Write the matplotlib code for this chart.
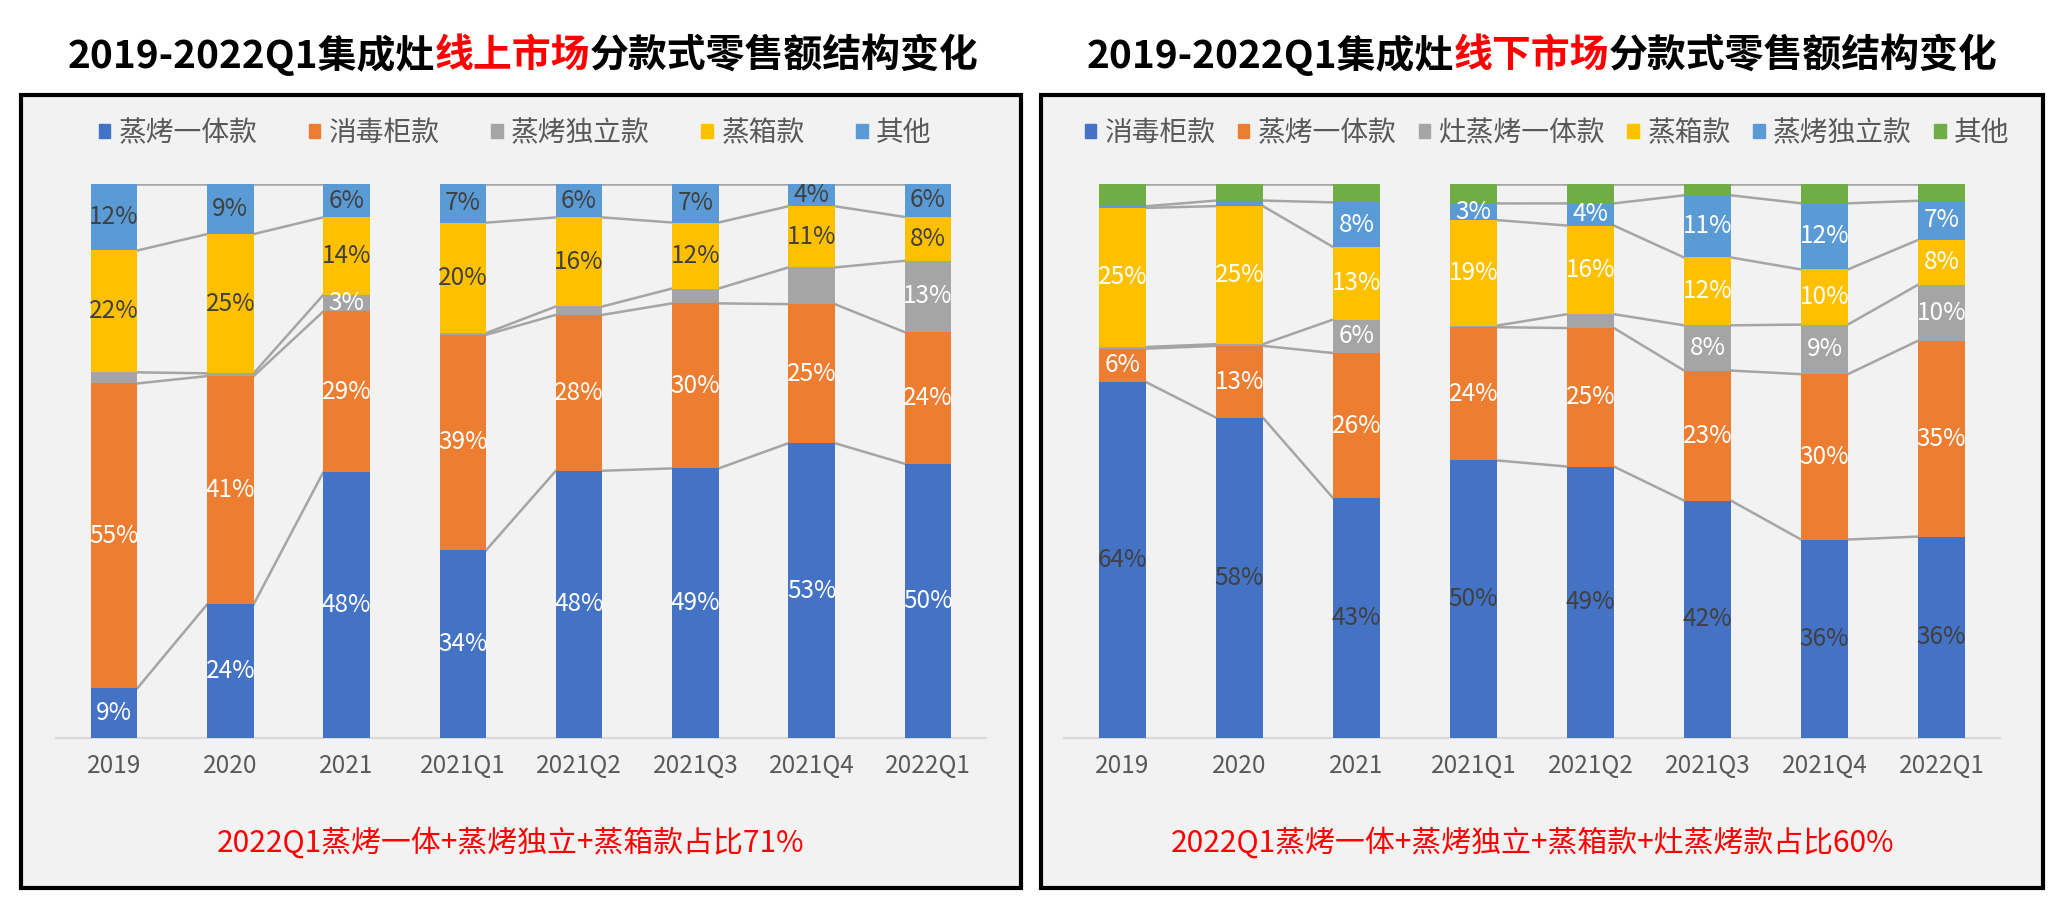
import matplotlib
matplotlib.use("Agg")
import matplotlib.pyplot as plt
from matplotlib.patches import Rectangle, Patch
import numpy as np

plt.rcParams['font.family'] = ['Noto Sans CJK SC', 'DejaVu Sans']

# Data
periods = ['2019', '2020', '2021', '2021Q1', '2021Q2', '2021Q3', '2021Q4', '2022Q1']
groups = [[0, 1, 2], [3, 4, 5, 6, 7]]  # connector lines only inside each group

online_names = ['蒸烤一体款', '消毒柜款', '蒸烤独立款', '蒸箱款', '其他']
online_steam_oven = [9, 24, 48, 34, 48, 49, 53, 50]
online_sterilizer = [55, 41, 29, 39, 28, 30, 25, 24]
online_steam_oven_sep = [2, 0.5, 3, 0.3, 1.5, 2.7, 6.6, 13]
online_steamer = [22, 25, 14, 20, 16, 12, 11, 8]
online_other = [12, 9, 6, 7, 6, 7, 4, 6]

offline_names = ['消毒柜款', '蒸烤一体款', '灶蒸烤一体款', '蒸箱款', '蒸烤独立款', '其他']
offline_sterilizer = [64, 58, 43, 50, 49, 42, 36, 36]
offline_steam_oven = [6, 13, 26, 24, 25, 23, 30, 35]
offline_stove_oven = [0.3, 0.3, 6, 0.3, 2.5, 8, 9, 10]
offline_steamer = [25, 25, 13, 19, 16, 12, 10, 8]
offline_steam_oven_sep = [0.3, 1, 8, 3, 4, 11, 12, 7]
offline_other = [4, 3, 3.3, 3.5, 3.5, 2, 3.5, 3]

# segments whose label is not shown: (series index, period index)
online_hidden = {(2, 0), (2, 1), (2, 3), (2, 4), (2, 5), (2, 6)}
offline_hidden = {(2, 0), (2, 1), (2, 3), (2, 4), (4, 0), (4, 1)} | {(5, i) for i in range(8)}

BLUE, ORANGE, GRAY, YELLOW, LBLUE, GREEN = '#4472C4', '#ED7D31', '#A5A5A5', '#FFC000', '#5B9BD5', '#70AD47'
DARK = '#404040'

online = dict(
    series=[online_steam_oven, online_sterilizer, online_steam_oven_sep, online_steamer, online_other],
    names=online_names,
    colors=[BLUE, ORANGE, GRAY, YELLOW, LBLUE],
    label_colors=['white', 'white', 'white', DARK, DARK],
    hidden=online_hidden,
)
offline = dict(
    series=[offline_sterilizer, offline_steam_oven, offline_stove_oven, offline_steamer,
            offline_steam_oven_sep, offline_other],
    names=offline_names,
    colors=[BLUE, ORANGE, GRAY, YELLOW, LBLUE, GREEN],
    label_colors=[DARK, 'white', 'white', 'white', 'white', 'white'],
    hidden=offline_hidden,
)

fig = plt.figure(figsize=(20.63, 9.01), dpi=100)
W, H = 2063, 901

# panel boxes
for x0, x1 in [(21, 1021), (1041, 2043)]:
    fig.patches.append(Rectangle((x0 / W, 1 - 888 / H), (x1 - x0) / W, (888 - 95) / H,
                                 transform=fig.transFigure, facecolor='#F2F2F2',
                                 edgecolor='black', linewidth=3, zorder=-5))


def draw_panel(ax, cfg, legend_x, colspace):
    data = np.array(cfg['series'], dtype=float)
    share = data / data.sum(axis=0) * 100
    x = np.arange(len(periods))
    w = 0.40
    bottom = np.zeros(len(periods))
    tops = []
    for k, (vals, raw) in enumerate(zip(share, data)):
        ax.bar(x, vals, w, bottom=bottom, color=cfg['colors'][k], zorder=3)
        for i in range(len(periods)):
            if (k, i) in cfg['hidden']:
                continue
            ax.text(x[i], bottom[i] + vals[i] / 2, f"{raw[i]:.0f}%", ha='center', va='center',
                    fontsize=17.5, color=cfg['label_colors'][k], zorder=4)
        bottom = bottom + vals
        tops.append(bottom.copy())
    # series lines
    for level in tops:
        for g in groups:
            for a, b in zip(g[:-1], g[1:]):
                ax.plot([x[a] + w / 2, x[b] - w / 2], [level[a], level[b]],
                        color='#A5A5A5', lw=1.8, zorder=2)
    ax.set_xlim(-0.5, len(periods) - 0.5)
    ax.set_ylim(0, 100)
    ax.set_facecolor('none')
    ax.set_xticks(x)
    ax.set_xticklabels(periods, fontsize=17.5, color='#595959')
    ax.tick_params(axis='x', length=0, pad=11)
    ax.set_yticks([])
    for s in ['top', 'left', 'right']:
        ax.spines[s].set_visible(False)
    ax.spines['bottom'].set_color('#D9D9D9')
    ax.spines['bottom'].set_linewidth(1.5)
    handles = [Patch(color=c) for c in cfg['colors']]
    fig.legend(handles, cfg['names'], loc='center', bbox_to_anchor=(legend_x, 1 - 133 / H),
               ncol=len(handles), frameon=False, fontsize=20, labelcolor='#595959',
               handlelength=0.42, handleheight=0.42, handletextpad=0.3, columnspacing=colspace)


ax1 = fig.add_axes([56 / W, 1 - 738 / H, 930 / W, 554 / H])
draw_panel(ax1, online, 515 / W, 1.85)
ax2 = fig.add_axes([1064 / W, 1 - 738 / H, 936 / W, 554 / H])
draw_panel(ax2, offline, 1547 / W, 0.8)

renderer = fig.canvas.get_renderer()


def color_text(xc, y, parts, **kw):
    widths = []
    for s, c in parts:
        t = fig.text(0, 0, s, **kw)
        widths.append(t.get_window_extent(renderer).width)
        t.remove()
    xpos = xc * W - sum(widths) / 2
    for (s, c), wd in zip(parts, widths):
        fig.text(xpos / W, y, s, color=c, ha='left', va='center', **kw)
        xpos += wd


title_kw = dict(fontsize=28, fontweight='bold')
color_text(523 / W, 1 - 55 / H,
           [('2019-2022Q1集成灶', 'black'), ('线上市场', 'red'), ('分款式零售额结构变化', 'black')], **title_kw)
color_text(1542 / W, 1 - 55 / H,
           [('2019-2022Q1集成灶', 'black'), ('线下市场', 'red'), ('分款式零售额结构变化', 'black')], **title_kw)

fig.text(510 / W, 1 - 843 / H, '2022Q1蒸烤一体+蒸烤独立+蒸箱款占比71%', color='red',
         fontsize=21.5, ha='center', va='center')
fig.text(1532 / W, 1 - 843 / H, '2022Q1蒸烤一体+蒸烤独立+蒸箱款+灶蒸烤款占比60%', color='red',
         fontsize=21.5, ha='center', va='center')

fig.savefig('out.png', dpi=100, facecolor='white')
